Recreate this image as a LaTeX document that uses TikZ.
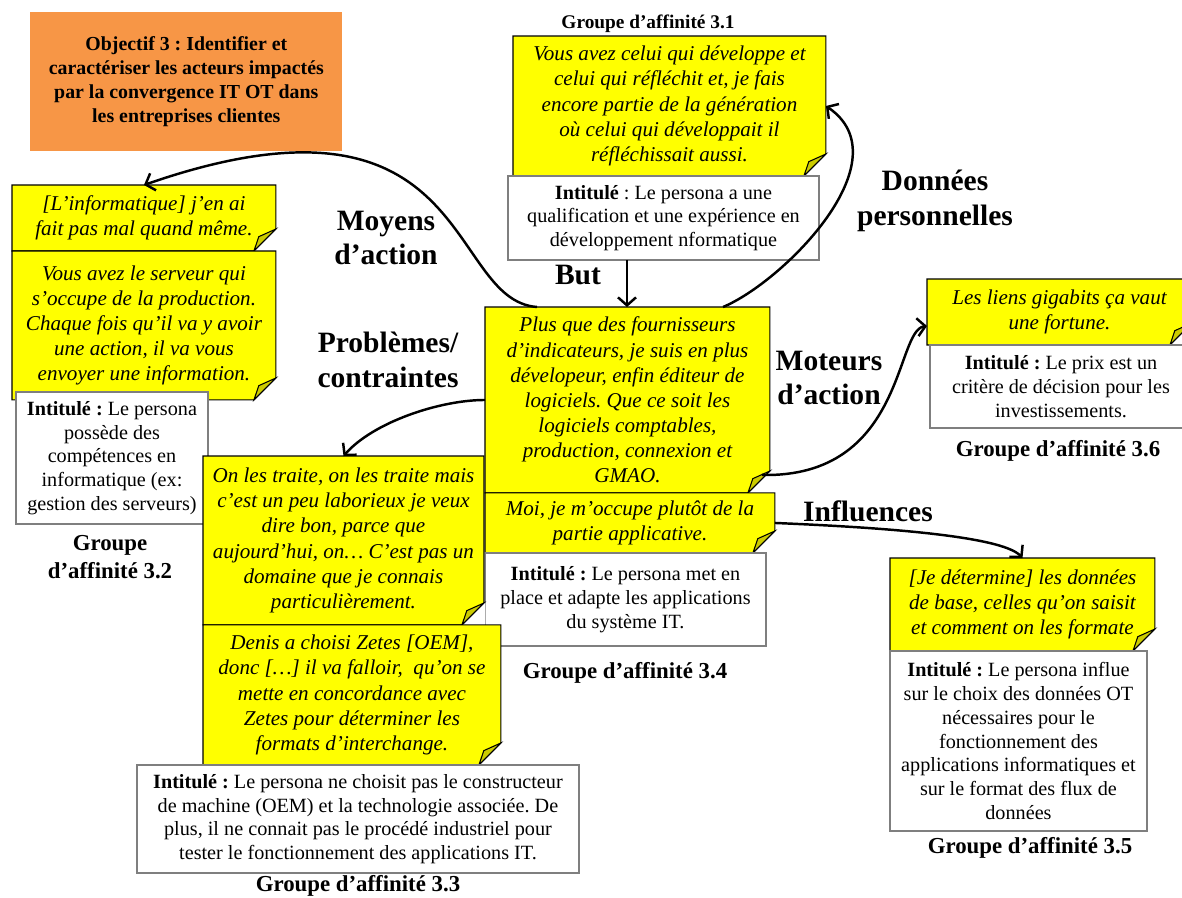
\documentclass[tikz,border=0pt]{standalone}
\usepackage{fontspec}
\setmainfont{Liberation Serif}
\usepackage{tikz}
\usetikzlibrary{positioning,arrows.meta,calc}
\definecolor{NoteY}{HTML}{FFFF00}
\definecolor{FoldY}{HTML}{CCCC00}
\definecolor{ObjC}{HTML}{F79646}
\definecolor{EdgeG}{HTML}{7F7F7F}
\def\plisz{22}
% folded corner of a quote box
\newcommand{\pli}[1]{%
  \fill[white] ($(#1.south east)+(0,-\plisz)$) -- ($(#1.south east)+(1.5,-\plisz)$)
    -- ($(#1.south east)+(1.5,1.5)$) -- ($(#1.south east)+(-\plisz,1.5)$)
    -- ($(#1.south east)+(-\plisz,0)$) -- cycle;
  \draw[line width=.6pt] (#1.north west) -- (#1.north east) -- ($(#1.south east)+(0,-\plisz)$)
    -- ($(#1.south east)+(-\plisz,0)$) -- (#1.south west) -- cycle;
  \filldraw[fill=FoldY,line width=.6pt] ($(#1.south east)+(0,-\plisz)$)
    -- ($(#1.south east)+(-.78*\plisz,-.65*\plisz)$) -- ($(#1.south east)+(-\plisz,0)$) -- cycle;}

\begin{document}
\frenchspacing
\begin{tikzpicture}[x=0.02cm,y=-0.02cm,
  citation/.style={fill=NoteY,anchor=north west,align=center,inner sep=2pt,outer sep=0pt,
    font=\fontsize{12}{14.3}\selectfont\itshape},
  intitule/.style={draw=EdgeG,line width=.7pt,fill=white,anchor=north west,align=center,
    inner sep=2pt,outer sep=0pt,font=\fontsize{11.5}{13.5}\selectfont},
  axe/.style={font=\fontsize{16.8}{19.8}\selectfont\bfseries,align=center},
  groupe/.style={font=\fontsize{13}{15.8}\selectfont\bfseries,align=center},
  lien/.style={line width=1.4pt,-{Straight Barb[length=1.6mm,width=3.6mm]}}]
\useasboundingbox (0,0) rectangle (1182,898);

% ================= objective =================
\node[fill=ObjC,anchor=north west,align=center,inner sep=2pt,
  minimum width=6.24cm,minimum height=2.78cm,
  font=\fontsize{11.3}{13.6}\selectfont\bfseries] (obj) at (30,12)
  {Objectif 3 : Identifier et\\caractériser les acteurs impactés\\par la convergence IT OT dans\\les entreprises clientes};

% ================= groupe 3.1 =================
\node[citation,minimum width=6.26cm,minimum height=2.80cm] (q31) at (513,36)
  {Vous avez celui qui développe et\\celui qui réfléchit et, je fais\\encore partie de la génération\\où celui qui développait il\\réfléchissait aussi.};
\pli{q31}
\node[intitule,minimum width=6.22cm,minimum height=1.68cm] (i31) at (508,176)
  {\textbf{Intitulé} : Le persona a une\\qualification et une expérience en\\développement nformatique};
\node[groupe,font=\fontsize{11}{13}\selectfont\bfseries] (t31) at (648,24) {Groupe d'affinité 3.1};

% ================= groupe 3.4 (centre) =================
\node[citation,minimum width=5.70cm,minimum height=3.72cm] (q34a) at (485,307)
  {Plus que des fournisseurs\\d'indicateurs, je suis en plus\\dévelopeur, enfin éditeur de\\logiciels. Que ce soit les\\logiciels comptables,\\production, connexion et\\GMAO.};
\pli{q34a}
\node[citation,minimum width=5.80cm,minimum height=1.20cm] (q34b) at (q34a.south west)
  {Moi, je m'occupe plutôt de la\\partie applicative.};
\pli{q34b}
\node[intitule,minimum width=5.62cm,minimum height=1.86cm] (i34) at (q34b.south west)
  {\textbf{Intitulé :} Le persona met en\\place et adapte les applications\\du système IT.};
\node[groupe] (t34) at (625,673) {Groupe d'affinité 3.4};

% ================= groupe 3.2 =================
\node[citation,minimum width=5.28cm,minimum height=1.32cm] (q32a) at (12,185)
  {[L'informatique] j'en ai\\fait pas mal quand même.};
\pli{q32a}
\node[citation,minimum width=5.28cm,minimum height=2.98cm] (q32b) at (q32a.south west)
  {Vous avez le serveur qui\\s'occupe de la production.\\Chaque fois qu'il va y avoir\\une action, il va vous\\envoyer une information.};
\pli{q32b}
\node[intitule,minimum width=3.84cm,minimum height=2.64cm] (i32) at (16,392)
  {\textbf{Intitulé :} Le persona\\possède des\\compétences en\\informatique (ex:\\gestion des serveurs)};
\node[groupe] (t32) at (110,557) {Groupe\\d'affinité 3.2};

% ================= groupe 3.3 =================
\node[citation,minimum width=5.62cm,minimum height=3.38cm] (q33a) at (203,456)
  {On les traite, on les traite mais\\c'est un peu laborieux je veux\\dire bon, parce que\\aujourd'hui, on… C'est pas un\\domaine que je connais\\particulièrement.};
\pli{q33a}
\node[citation,minimum width=5.96cm,minimum height=2.80cm] (q33b) at (q33a.south west)
  {Denis a choisi Zetes [OEM],\\donc […] il va falloir,\ \ qu'on se\\mette en concordance avec\\Zetes pour déterminer les\\formats d'interchange.};
\pli{q33b}
\node[intitule,minimum width=8.84cm,minimum height=2.16cm] (i33) at (137,765)
  {\textbf{Intitulé :} Le persona ne choisit pas le constructeur\\de machine (OEM) et la technologie associée. De\\plus, il ne connait pas le procédé industriel pour\\tester le fonctionnement des applications IT.};
\node[groupe] (t33) at (358,886) {Groupe d'affinité 3.3};

% ================= groupe 3.6 =================
\node[citation,minimum width=5.30cm,minimum height=1.32cm] (q36) at (927,279)
  {Les liens gigabits ça vaut\\une fortune.};
\pli{q36}
\node[intitule,minimum width=5.24cm,minimum height=1.66cm] (i36) at (930,345)
  {\textbf{Intitulé :} Le prix est un\\critère de décision pour les\\investissements.};
\node[groupe] (t36) at (1058,451) {Groupe d'affinité 3.6};

% ================= groupe 3.5 =================
\node[citation,minimum width=5.30cm,minimum height=1.86cm] (q35) at (890,558)
  {[Je détermine] les données\\de base, celles qu'on saisit\\et comment on les formate};
\pli{q35}
\node[intitule,minimum width=5.14cm,minimum height=3.60cm] (i35) at (890,651)
  {\textbf{Intitulé :} Le persona influe\\sur le choix des données OT\\nécessaires pour le\\fonctionnement des\\applications informatiques et\\sur le format des flux de\\données};
\node[groupe] (t35) at (1030,848) {Groupe d'affinité 3.5};

% ================= links =================
\node[axe] (lmoy) at (386,238) {Moyens\\d'action};
\node[axe] (lbut) at (578,275) {But};
\node[axe] (ldon) at (935,201) {Données\\personnelles};
\node[axe] (lpro) at (388,360) {Problèmes/\\contraintes};
\node[axe] (lmot) at (829,378) {Moteurs\\d'action};
\node[axe] (linf) at (868,511) {Influences};

\draw[lien] ($(i31.south west)+(119,0)$) coordinate (b0) -- (b0 |- q34a.north);
\draw[lien] ($(q34a.north west)+(52,0)$) .. controls +(-92,-7) and +(331,-115) .. (q32a.north);
\draw[lien] ($(q34a.north west)+(238,0)$) .. controls +(60,-25) and +(79,54) .. (q31.east);
\draw[lien] ($(q34a.south east)+(-8,-18)$) .. controls +(143,3) and +(-32,4) .. ($(q36.west)+(0,14)$);
\draw[lien] (q34a.west) .. controls +(-45,0) and +(30,-34) .. (q33a.north);
\draw[lien] (q34b.east) .. controls +(95,4) and +(-21,-23) .. (q35.north);
\end{tikzpicture}
\end{document}
